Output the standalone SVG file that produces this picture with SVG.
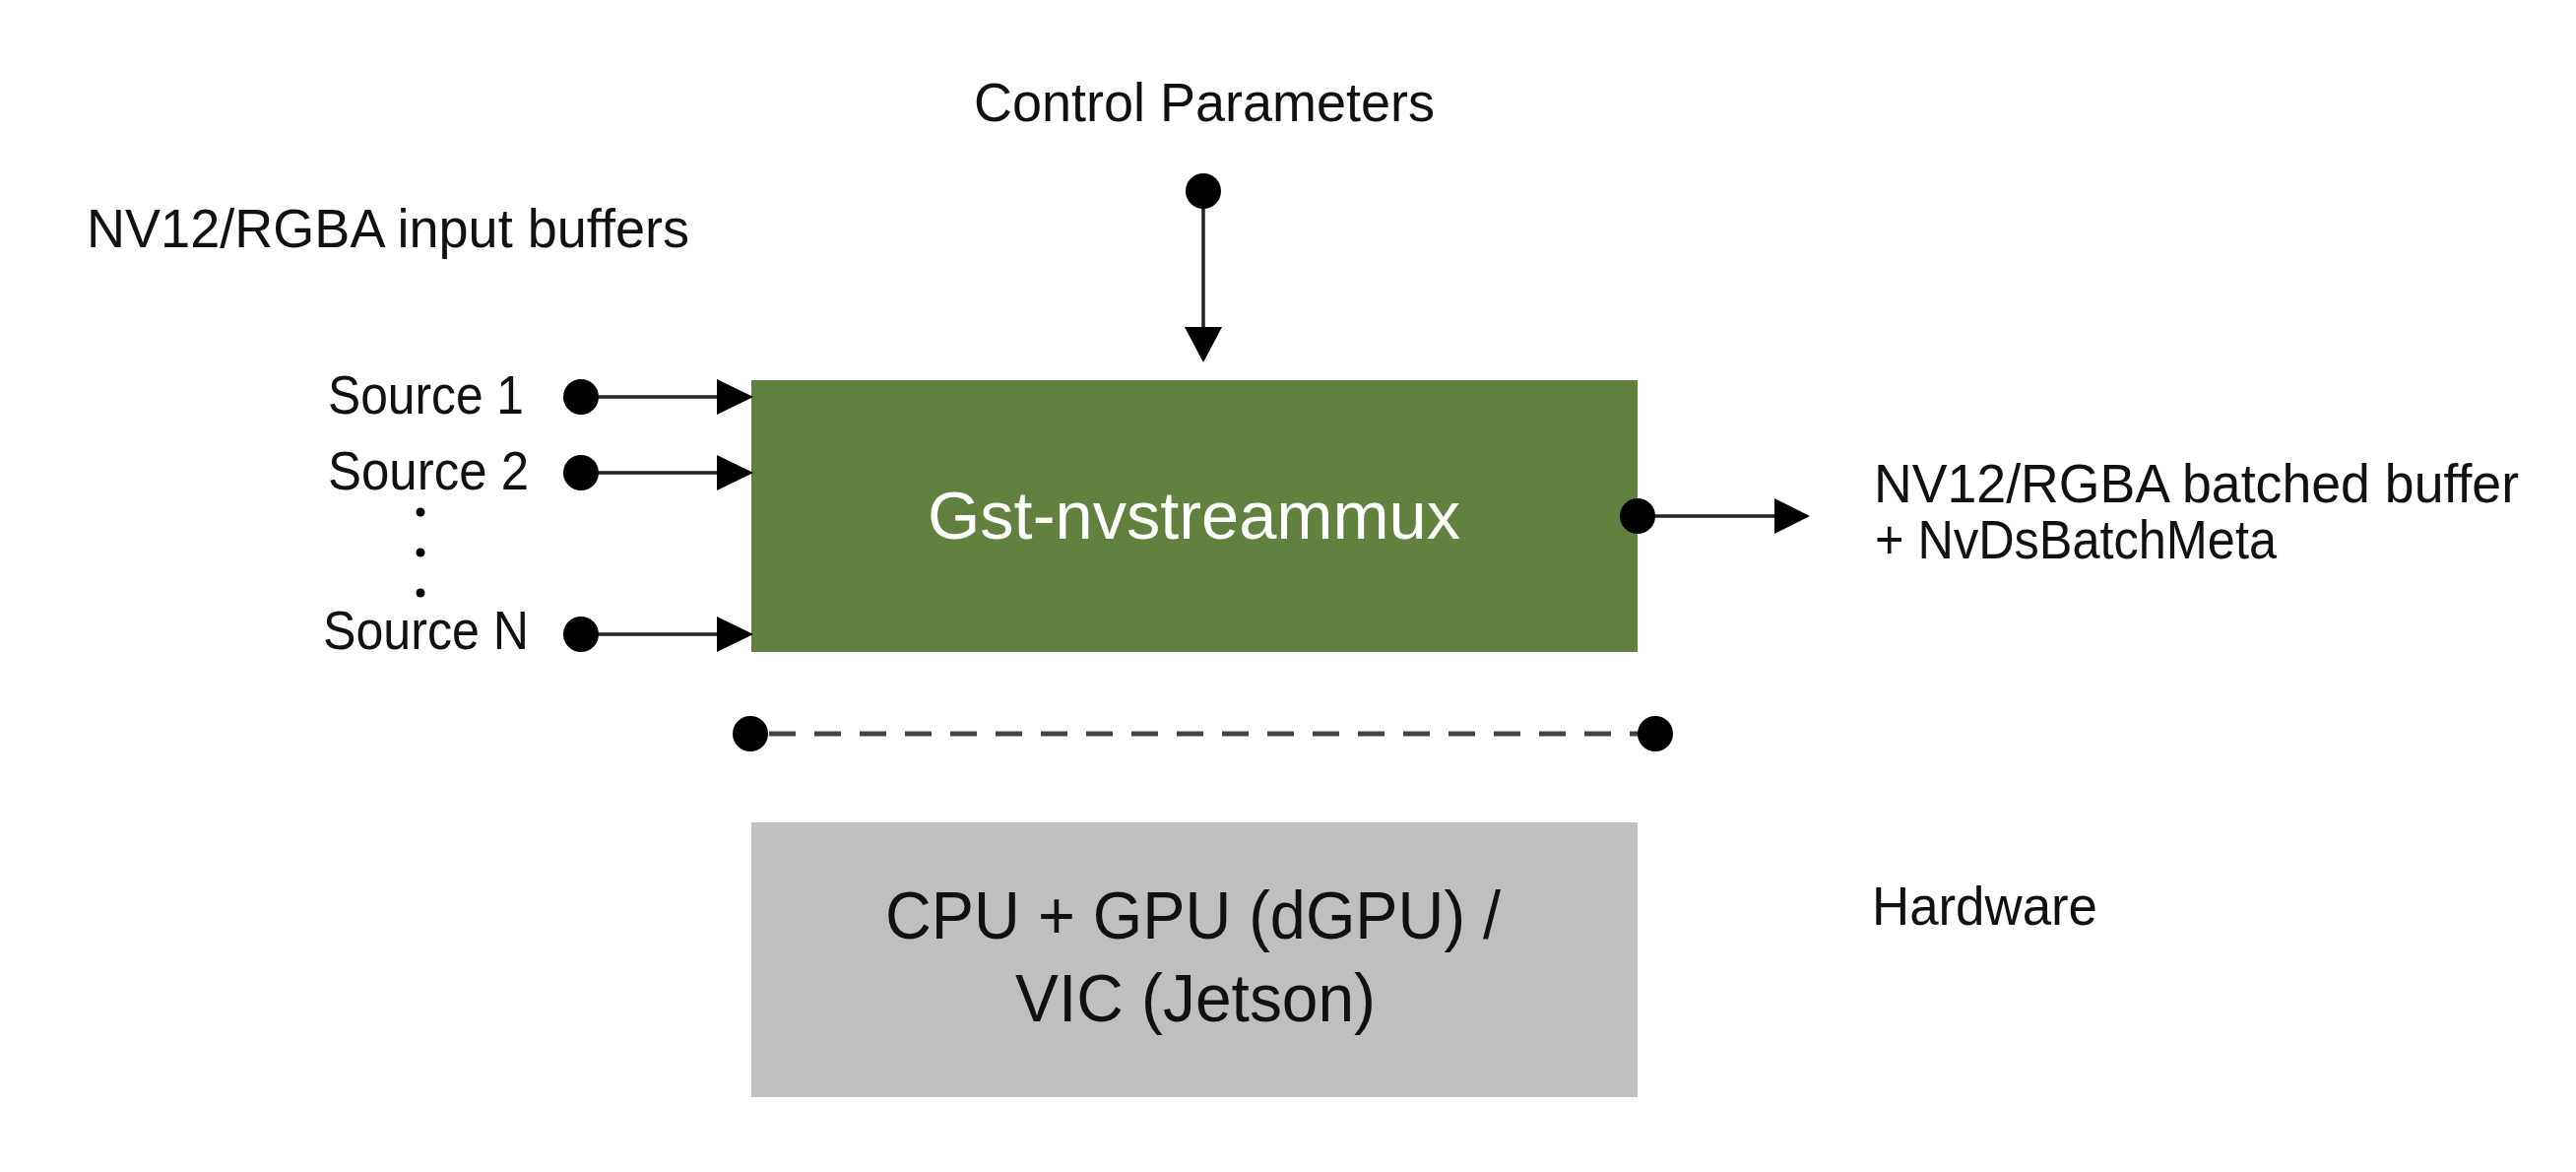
<svg xmlns="http://www.w3.org/2000/svg" width="2616" height="1190" viewBox="0 0 2616 1190">
<style>
text{font-family:"Liberation Sans",Arial,sans-serif;fill:#111;}
.lbl{font-size:56px;}
.big{font-size:68px;}
.white{fill:#ffffff;}
.wire{stroke:#222;stroke-width:3.5;fill:none;}
.dash{stroke:#444;stroke-width:5;fill:none;stroke-dasharray:27 19;}
.dot{fill:#000;}
.head{fill:#000;}
</style>
<rect width="2616" height="1190" fill="#ffffff"/>
<g id="node-mux">
<rect x="763" y="386" width="900" height="276" fill="#62803e"/>
<text class="big white" x="942" y="547" textLength="541" lengthAdjust="spacingAndGlyphs">Gst-nvstreammux</text>
</g>
<g id="node-hw">
<rect x="763" y="835" width="900" height="279" fill="#bfbfbf"/>
<text class="big" x="899" y="953" textLength="625" lengthAdjust="spacingAndGlyphs">CPU + GPU (dGPU) /</text>
<text class="big" x="1031" y="1037" textLength="366" lengthAdjust="spacingAndGlyphs">VIC (Jetson)</text>
</g>
<g id="labels">
<text class="lbl" x="88" y="251" textLength="612" lengthAdjust="spacingAndGlyphs">NV12/RGBA input buffers</text>
<text class="lbl" x="989" y="123" textLength="468" lengthAdjust="spacingAndGlyphs">Control Parameters</text>
<text class="lbl" x="333" y="420" textLength="199" lengthAdjust="spacingAndGlyphs">Source 1</text>
<text class="lbl" x="333" y="497" textLength="204" lengthAdjust="spacingAndGlyphs">Source 2</text>
<text class="lbl" x="328" y="659" textLength="209" lengthAdjust="spacingAndGlyphs">Source N</text>
<text class="lbl" x="1903" y="510" textLength="655" lengthAdjust="spacingAndGlyphs">NV12/RGBA batched buffer</text>
<text class="lbl" x="1904" y="567" textLength="408" lengthAdjust="spacingAndGlyphs">+ NvDsBatchMeta</text>
<text class="lbl" x="1901" y="939" textLength="229" lengthAdjust="spacingAndGlyphs">Hardware</text>
<circle class="dot" cx="427" cy="520" r="4.5"/>
<circle class="dot" cx="427" cy="561" r="4.5"/>
<circle class="dot" cx="427" cy="602" r="4.5"/>
</g>
<g id="connectors">
<line class="wire" x1="590" y1="403" x2="730" y2="403"/>
<circle class="dot" cx="590" cy="403" r="18"/>
<polygon class="head" points="728,385 765,403 728,421"/>
<line class="wire" x1="590" y1="480" x2="730" y2="480"/>
<circle class="dot" cx="590" cy="480" r="18"/>
<polygon class="head" points="728,462 765,480 728,498"/>
<line class="wire" x1="590" y1="644" x2="730" y2="644"/>
<circle class="dot" cx="590" cy="644" r="18"/>
<polygon class="head" points="728,626 765,644 728,662"/>
<line class="wire" x1="1222" y1="194" x2="1222" y2="334"/>
<circle class="dot" cx="1222" cy="194" r="18"/>
<polygon class="head" points="1203,332 1241,332 1222,368"/>
<line class="wire" x1="1663" y1="524" x2="1804" y2="524"/>
<circle class="dot" cx="1663" cy="524" r="18"/>
<polygon class="head" points="1802,506 1838,524 1802,542"/>
<line class="dash" x1="781" y1="745" x2="1681" y2="745"/>
<circle class="dot" cx="762" cy="745" r="18"/>
<circle class="dot" cx="1681" cy="745" r="18"/>
</g>
</svg>
